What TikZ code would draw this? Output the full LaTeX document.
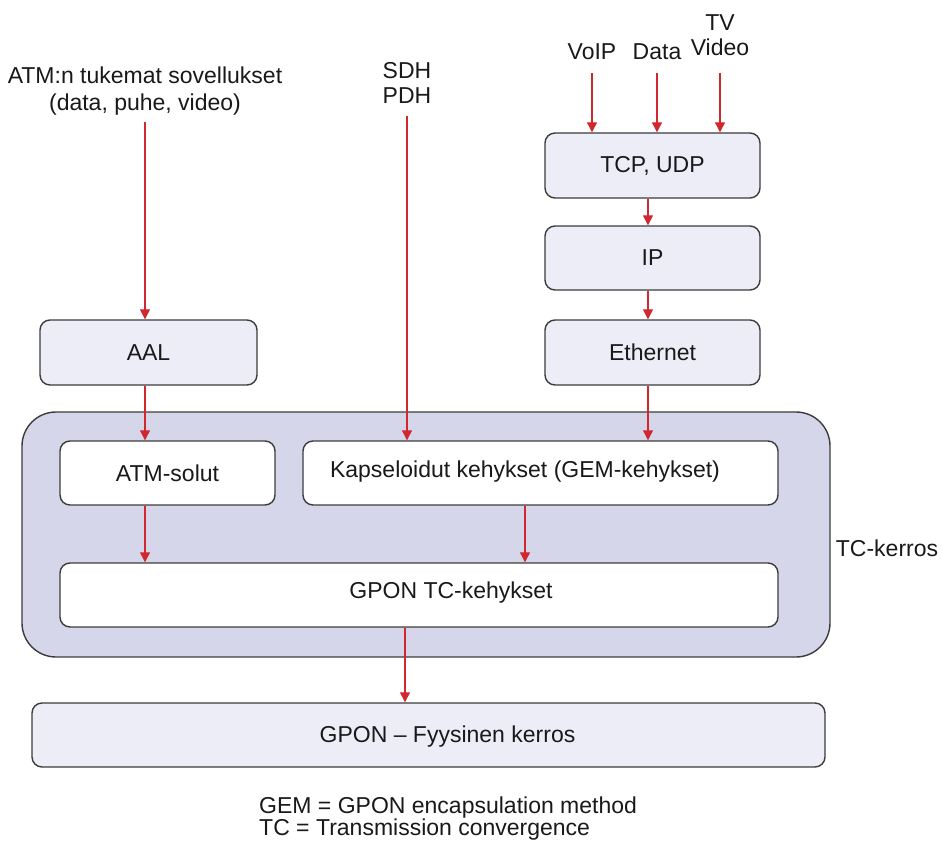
\documentclass[tikz,border=0pt]{standalone}
\usepackage{fontspec}
\setmainfont{Liberation Sans}
\usetikzlibrary{arrows.meta,calc}
\definecolor{arrred}{HTML}{D0282E}
\definecolor{lightlav}{HTML}{EDEDF7}
\definecolor{biglav}{HTML}{D6D6EA}
\definecolor{edge}{HTML}{3C3C3C}
\begin{document}
\begin{tikzpicture}[x=1pt,y=-1pt,
  every node/.style={font=\fontsize{23}{25}\selectfont, text=black!90},
  lbox/.style={draw=edge, line width=1.4pt, rounded corners=10pt, fill=lightlav, inner sep=0pt},
  wbox/.style={draw=edge, line width=1.4pt, rounded corners=10pt, fill=white, inner sep=0pt},
  bigbox/.style={draw=edge, line width=1.4pt, rounded corners=34pt, fill=biglav, inner sep=0pt},
  lbl/.style={align=center, inner sep=0pt},
  arr/.style={draw=arrred, line width=1.2pt, -{Triangle[width=10pt,length=10pt]}}]
\useasboundingbox (0,0) rectangle (942,848);
% big TC box
\node[bigbox, minimum width=808pt, minimum height=245pt] (tc) at (426,534.5) {};
\node[lbl] (tclab) at (887,548) {TC-kerros};
% boxes
\node[lbox, minimum width=217pt, minimum height=65pt] (aal) at (148.5,352.5) {AAL};
\node[lbox, minimum width=215pt, minimum height=65pt] (tcp) at (652.5,165.5) {TCP, UDP};
\node[lbox, minimum width=215pt, minimum height=64pt] (ip) at (652.5,258) {IP};
\node[lbox, minimum width=215pt, minimum height=65pt] (eth) at (652.5,352.5) {Ethernet};
\node[wbox, minimum width=215pt, minimum height=64pt] (atm) at (167.5,473) {ATM-solut};
\node[wbox, minimum width=475pt, minimum height=64pt] (gem) at (540.5,473) {};
\node[lbl] at (525,472) {Kapseloidut kehykset (GEM-kehykset)};
\node[wbox, minimum width=718pt, minimum height=64pt] (gtc) at (419,595) {};
\node[lbl] at (451,593) {GPON TC-kehykset};
\node[lbox, minimum width=793pt, minimum height=64pt] (phy) at (428.5,735) {};
\node[lbl] at (447.5,737) {GPON – Fyysinen kerros};
% top labels
\node[lbl, font=\fontsize{23}{27}\selectfont] (app) at (145,91) {ATM:n tukemat sovellukset\\(data, puhe, video)};
\node[lbl] (sdh) at (407,83) {SDH\\PDH};
\node[lbl] (voip) at (592,52) {VoIP};
\node[lbl] (data) at (657,52) {Data};
\node[lbl] (tv) at (720,35) {TV\\Video};
% legend
\node[lbl, align=left, anchor=west, font=\fontsize{23}{22}\selectfont] (leg) at (259,819) {GEM = GPON encapsulation method\\TC = Transmission convergence};
% arrow x positions
\coordinate (xa) at (145,0);
\coordinate (xs) at (407,0);
\coordinate (xe) at (648,0);
\coordinate (xg) at (525,0);
\coordinate (xp) at (405,0);
% connectors
\draw[arr] (xa |- app.south) ++(0,7) -- (xa |- aal.north);
\draw[arr] (xs |- sdh.south) ++(0,12) -- (xs |- gem.north);
\draw[arr] (voip.south) ++(0,13) -- (voip.south |- tcp.north);
\draw[arr] (data.south) ++(0,13) -- (data.south |- tcp.north);
\draw[arr] (tv.south) ++(0,17) -- (tv.south |- tcp.north);
\draw[arr] (xa |- aal.south) -- (xa |- atm.north);
\draw[arr] (xe |- tcp.south) -- (xe |- ip.north);
\draw[arr] (xe |- ip.south) -- (xe |- eth.north);
\draw[arr] (xe |- eth.south) -- (xe |- gem.north);
\draw[arr] (xa |- atm.south) -- (xa |- gtc.north);
\draw[arr] (xg |- gem.south) -- (xg |- gtc.north);
\draw[arr] (xp |- gtc.south) -- (xp |- phy.north);
\end{tikzpicture}
\end{document}
